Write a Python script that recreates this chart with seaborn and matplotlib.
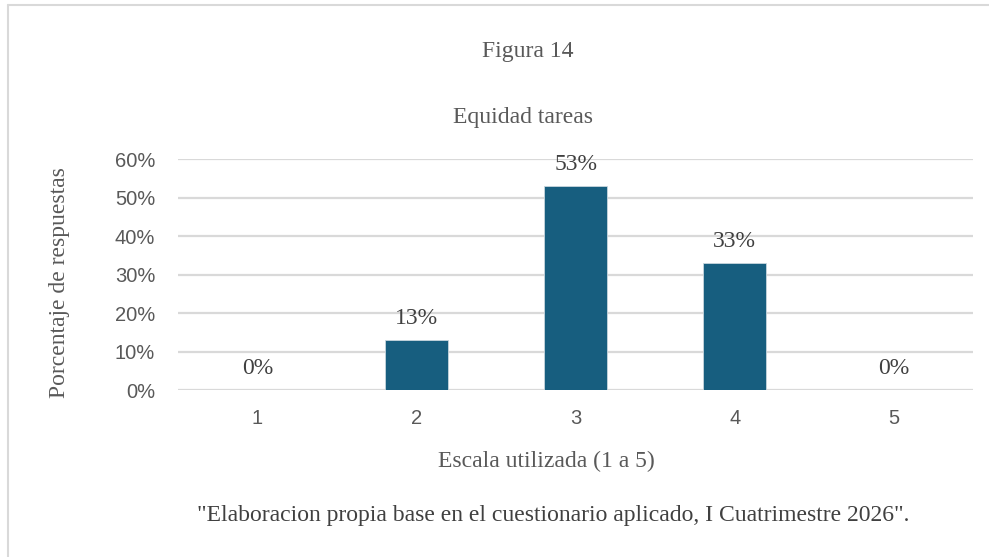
import matplotlib
matplotlib.use("Agg")
import matplotlib.pyplot as plt
import seaborn as sns
import pandas as pd
from matplotlib.lines import Line2D
from matplotlib.ticker import PercentFormatter

# Data
categories = ["1", "2", "3", "4", "5"]
values = [0.0, 0.13, 0.53, 0.33, 0.0]
value_labels = ["0%", "13%", "53%", "33%", "0%"]
y_ticks = [0.0, 0.1, 0.2, 0.3, 0.4, 0.5, 0.6]

df = pd.DataFrame({"escala": categories, "porcentaje": values})

sns.set_theme(style="white")
serif = ["Liberation Serif", "DejaVu Serif"]
sans = ["Liberation Sans", "DejaVu Sans"]

fig = plt.figure(figsize=(9.89, 5.57), dpi=100)
ax = fig.add_axes([0.180, 0.2998, 0.804, 0.4147])

sns.barplot(data=df, x="escala", y="porcentaje", color="#175E7F", width=0.4,
            saturation=1, edgecolor="#C8D6DE", linewidth=0.6, ax=ax, zorder=3)

ax.set_xlim(-0.5, len(categories) - 0.5)
ax.set_ylim(0, 0.6)
ax.set_yticks(y_ticks)
ax.yaxis.set_major_formatter(PercentFormatter(1.0, decimals=0))
ax.grid(axis="y", color="#D9D9D9", linewidth=1.6, zorder=0)
ax.grid(axis="x", visible=False)
for s in ax.spines.values():
    s.set_visible(False)
ax.tick_params(axis="both", length=0, labelsize=14.5, labelcolor="#595959")
ax.tick_params(axis="y", pad=16.5)
ax.tick_params(axis="x", pad=14)
for lab in ax.get_xticklabels() + ax.get_yticklabels():
    lab.set_family(sans)

ax.set_xlabel("")
ax.set_ylabel("")

# Value labels above each bar
for i, (v, t) in enumerate(zip(values, value_labels)):
    ax.annotate(t, (i, v), xytext=(0, 8), textcoords="offset points",
                ha="center", va="bottom", fontsize=17, color="#404040",
                family=serif)

# Titles and captions
fig.text(528 / 989, 1 - 52 / 557, "Figura 14", ha="center", va="center",
         fontsize=17, color="#595959", family=serif)
fig.text(523 / 989, 1 - 118 / 557, "Equidad tareas", ha="center", va="center",
         fontsize=17, color="#595959", family=serif)
fig.text(60 / 989, 1 - 283 / 557, "Porcentaje de respuestas", ha="center",
         va="center", rotation=90, fontsize=17, color="#595959", family=serif)
fig.text(546 / 989, 1 - 461 / 557, "Escala utilizada (1 a 5)", ha="center",
         va="center", fontsize=17, color="#595959", family=serif)
fig.text(553 / 989, 1 - 516 / 557,
         "\"Elaboracion propia base en el cuestionario aplicado, I Cuatrimestre 2026\".",
         ha="center", va="center", fontsize=17, color="#404040", family=serif)

# Frame lines along the top and left edges
fig.add_artist(Line2D([8 / 989, 8 / 989], [0, 1 - 5 / 557], color="#D9D9D9",
                      linewidth=1.5, transform=fig.transFigure))
fig.add_artist(Line2D([8 / 989, 1], [1 - 5 / 557, 1 - 5 / 557], color="#D9D9D9",
                      linewidth=1.5, transform=fig.transFigure))

fig.savefig("out.png", dpi=100, facecolor="white")
